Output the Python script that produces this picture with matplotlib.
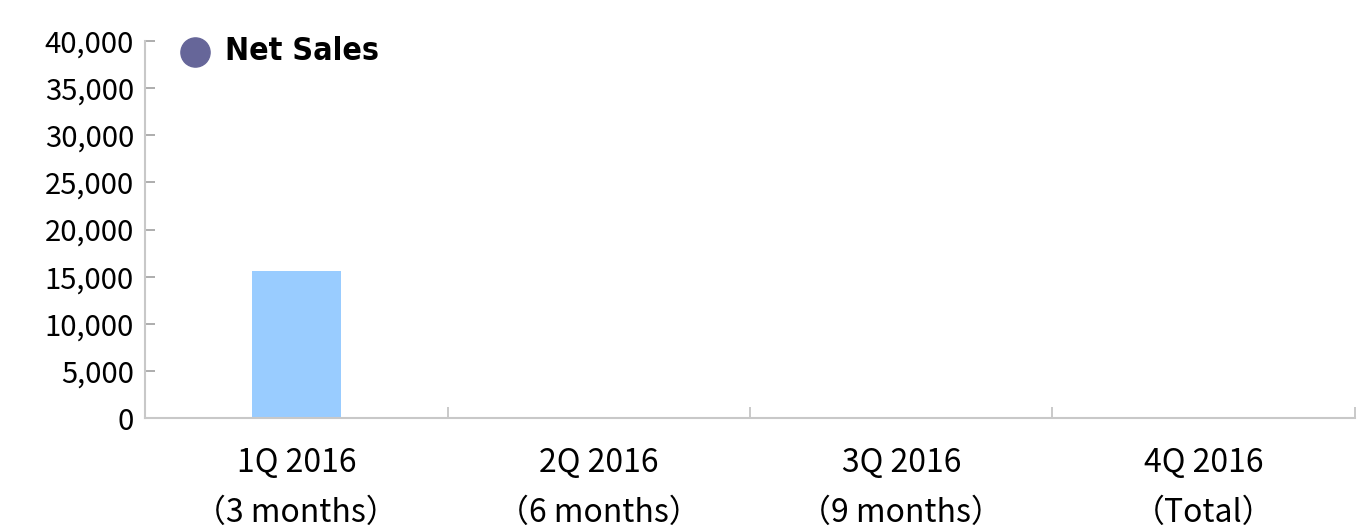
import numpy as np
import matplotlib.pyplot as plt
from matplotlib.ticker import FuncFormatter, FixedLocator

plt.rcParams['font.family'] = ['Noto Sans CJK JP', 'DejaVu Sans']

# data
categories = ['1Q 2016\n（3 months）', '2Q 2016\n（6 months）', '3Q 2016\n（9 months）', '4Q 2016\n（Total）']
net_sales = [15600, np.nan, np.nan, np.nan]
y_ticks = np.arange(0, 40001, 5000)

fig = plt.figure(figsize=(13.67, 5.26), dpi=100)
ax = fig.add_axes([0.1061, 0.2053, 0.8851, 0.7167])

x = np.arange(len(categories))
ax.bar(x, net_sales, width=0.295, color='#99ccff')

ax.set_xlim(-0.5, len(categories) - 0.5)
ax.set_ylim(0, 40000)
ax.set_yticks(y_ticks)
ax.yaxis.set_major_formatter(FuncFormatter(lambda v, p: '{:,.0f}'.format(v)))

ax.set_xticks(x)
ax.set_xticklabels(categories, fontsize=23, linespacing=1.7)
ax.xaxis.set_minor_locator(FixedLocator(x + 0.5))
ax.tick_params(axis='x', which='major', length=0, pad=21)
ax.tick_params(axis='x', which='minor', direction='in', length=8, width=1.2, color='#c0c0c0')
ax.tick_params(axis='y', direction='in', length=7, width=1.2, color='#a0a0a0', labelsize=21, pad=8)

for s in ['top', 'right']:
    ax.spines[s].set_visible(False)
for s in ['left', 'bottom']:
    ax.spines[s].set_color('#c8c8c8')
    ax.spines[s].set_linewidth(1.5)

# legend
ax.plot([0.041], [0.971], 'o', color='#666699', markersize=21, transform=ax.transAxes, clip_on=False)
ax.text(0.066, 0.971, 'Net Sales', transform=ax.transAxes, fontsize=23, fontweight='bold',
        fontstretch='condensed', va='center', ha='left', family=['DejaVu Sans'])

fig.savefig('out.png', dpi=100)
